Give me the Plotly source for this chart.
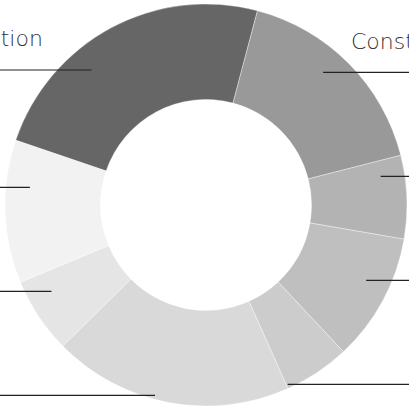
import math
import plotly.graph_objects as go

# ---- data ----
labels = ["Transportation", "Construction", "Energy", "Retail", "Media",
          "Finance", "Mining", "Health"]
values = [23.9, 16.9, 6.7, 10.3, 5.3, 19.3, 6.1, 11.5]
colors = ["#666666", "#999999", "#b3b3b3", "#bfbfbf", "#cccccc",
          "#d9d9d9", "#e5e5e5", "#f2f2f2"]

# ---- layout constants (pixels) ----
W, H = 409, 407
CX, CY, R_OUT = 206, 205, 201
HOLE = 0.525
ROTATION = 288.8
R_LINE = 177       # radius where leader lines start
R_IDEAL = 165      # radius used for ideal label heights
GAP = 104          # min vertical gap between labels on a side
Y_MIN, Y_MAX = 70, 397
LEFT_COL = -118    # left labels start here (left aligned)
RIGHT_COL = 493    # right labels end here (right aligned)
FONT = dict(family="DejaVu Sans, Lato, sans-serif", size=22, color="#333333", weight=300)

fig = go.Figure()
fig.add_trace(go.Pie(
    labels=labels, values=values, sort=False, direction="clockwise",
    rotation=ROTATION, hole=HOLE, textinfo="none", hoverinfo="label+percent",
    marker=dict(colors=colors, line=dict(color="rgba(255,255,255,0.6)", width=0.6)),
    domain=dict(x=[(CX - R_OUT) / W, (CX + R_OUT) / W],
                y=[1 - (CY + R_OUT) / H, 1 - (CY - R_OUT) / H]),
    showlegend=False,
))

# ---- label placement derived from the data ----
total = sum(values)
acc = 0.0
items = []
for lab, v in zip(labels, values):
    mid = math.radians(ROTATION + (acc + v / 2) / total * 360)
    acc += v
    side = 1 if math.sin(mid) >= 0 else -1
    y_ideal = CY - R_IDEAL * math.cos(mid)
    items.append(dict(label=lab, side=side, y=min(max(y_ideal, Y_MIN), Y_MAX)))

for side in (1, -1):
    group = sorted([it for it in items if it["side"] == side], key=lambda d: d["y"])
    for _ in range(400):
        for a, b in zip(group, group[1:]):
            over = GAP - (b["y"] - a["y"])
            if over > 0:
                a["y"] -= over / 2
                b["y"] += over / 2
        for it in group:
            it["y"] = min(max(it["y"], Y_MIN), Y_MAX)

shapes, annotations = [], []
for it in items:
    dy = it["y"] - CY
    r = min(max(R_LINE, abs(dy) + 18), R_OUT - 4)
    x0 = CX + it["side"] * math.sqrt(max(r * r - dy * dy, 0))
    x1 = RIGHT_COL + 200 if it["side"] > 0 else LEFT_COL - 200
    shapes.append(dict(type="line", xref="x", yref="y", x0=x0, x1=x1,
                       y0=it["y"], y1=it["y"], line=dict(color="#222222", width=1.2),
                       layer="above"))
    annotations.append(dict(
        xref="paper", yref="paper",
        x=(RIGHT_COL if it["side"] > 0 else LEFT_COL) / W,
        y=1 - (it["y"] - 31) / H,
        xanchor="right" if it["side"] > 0 else "left", yanchor="middle",
        text=it["label"], showarrow=False, font=FONT))

fig.update_layout(
    width=W, height=H, margin=dict(l=0, r=0, t=0, b=0),
    paper_bgcolor="white", plot_bgcolor="rgba(0,0,0,0)",
    xaxis=dict(range=[0, W], visible=False, fixedrange=True),
    yaxis=dict(range=[H, 0], visible=False, fixedrange=True),
    shapes=shapes, annotations=annotations,
)
fig.write_html("out.html")
